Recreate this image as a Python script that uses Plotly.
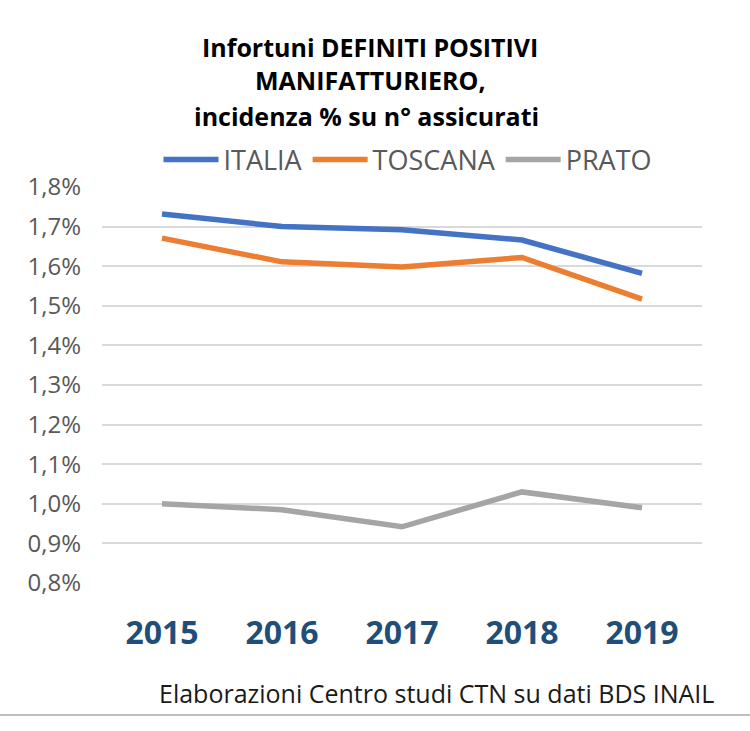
import plotly.graph_objects as go

years = ["2015", "2016", "2017", "2018", "2019"]
italia = [1.732, 1.700, 1.692, 1.666, 1.582]
toscana = [1.671, 1.611, 1.598, 1.622, 1.517]
prato = [1.000, 0.985, 0.942, 1.030, 0.990]
yticks = [0.8, 0.9, 1.0, 1.1, 1.2, 1.3, 1.4, 1.5, 1.6, 1.7, 1.8]
ytick_labels = [f"{v:.1f}%".replace(".", ",") for v in yticks]

title_lines = ["Infortuni DEFINITI POSITIVI", "MANIFATTURIERO,", "incidenza % su n° assicurati"]
footer = "Elaborazioni Centro studi CTN su dati BDS INAIL"

FONT = "Open Sans"
fig = go.Figure()
for name, vals, col in [("ITALIA", italia, "#4472C4"), ("TOSCANA", toscana, "#ED7D31"), ("PRATO", prato, "#A5A5A5")]:
    fig.add_trace(go.Scatter(x=years, y=vals, mode="lines", name=name,
                             line=dict(color=col, width=5.5)))

L, R, T, B = 102, 48, 187, 148
W, H = 750, 731
pw, ph = W - L - R, H - T - B

def px(x):
    return (x - L) / pw

def py(y):
    return (H - B - y) / ph

annots = []
for txt, yy, xx in zip(title_lines, [47, 80, 116], [370, 370, 366]):
    annots.append(dict(text="<b>" + txt + "</b>", x=px(xx), y=py(yy), xref="paper", yref="paper",
                       xanchor="center", yanchor="middle", showarrow=False,
                       font=dict(family=FONT, size=25, color="#000000")))
annots.append(dict(text=footer, x=px(436), y=py(693), xref="paper", yref="paper",
                   xanchor="center", yanchor="middle", showarrow=False,
                   font=dict(family=FONT, size=25, color="#1a1a1a")))

fig.update_layout(
    width=W, height=H,
    margin=dict(l=L, r=R, t=T, b=B),
    paper_bgcolor="white", plot_bgcolor="white",
    font=dict(family=FONT),
    showlegend=True,
    legend=dict(orientation="h", x=px(408), xanchor="center", y=py(160), yanchor="middle",
                font=dict(family=FONT, size=27, color="#595959"), itemwidth=55,
                tracegroupgap=0, bgcolor="rgba(0,0,0,0)"),
    annotations=annots,
    shapes=[dict(type="line", xref="paper", yref="paper", x0=px(0), x1=px(750),
                 y0=py(715), y1=py(715), line=dict(color="#BFBFBF", width=2))],
)
fig.update_xaxes(type="category", range=[-0.5, 4.5], showgrid=False, showline=False,
                 zeroline=False, ticks="",
                 tickfont=dict(family=FONT, size=32, color="#1F4E79", weight="bold"),
                 ticklabelstandoff=28)
fig.update_yaxes(range=[0.8, 1.8], tickvals=yticks, ticktext=ytick_labels,
                 showgrid=True, gridcolor="#D9D9D9", gridwidth=1.5, zeroline=False,
                 showline=False, ticks="",
                 tickfont=dict(family=FONT, size=24, color="#595959"),
                 ticklabelstandoff=20)

fig.write_html("out.html")
